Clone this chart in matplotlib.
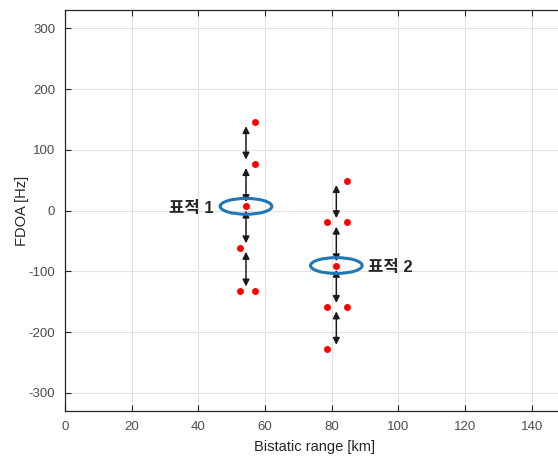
import matplotlib
matplotlib.use("Agg")
import matplotlib.pyplot as plt
from matplotlib.patches import Ellipse

plt.rcParams['font.family'] = ['Liberation Sans', 'Noto Sans CJK KR', 'DejaVu Sans']
plt.rcParams['axes.unicode_minus'] = False

# measured detections (bistatic range in km, FDOA in Hz)
t1_range = [57.1, 57.1, 54.3, 52.6, 52.6, 57.1]
t1_fdoa = [146, 77, 7, -61, -132, -132]
t2_range = [84.5, 78.5, 84.5, 81.4, 78.5, 84.5, 78.5]
t2_fdoa = [49, -19.5, -19.5, -90.5, -159, -159, -228]

# ambiguity spacing arrows: x position and the FDOA levels they join
t1_arrow_x = 54.3
t1_levels = [146, 77, 7, -61, -132]
t2_arrow_x = 81.4
t2_levels = [49, -19.5, -90.5, -159, -228]

# estimated target positions (centre of ellipse) and their labels
targets = [(54.3, 7), (81.4, -90.5)]
target_labels = ['표적 1', '표적 2']
ell_w, ell_h = 15.5, 26

dark = '#262626'

fig = plt.figure(figsize=(5.58, 4.57), dpi=100)
ax = fig.add_axes([0.1165, 0.1007, 0.896, 0.877])

ax.set_xlim(0, 150)
ax.set_ylim(-330, 330)
ax.set_xticks(range(0, 141, 20))
ax.set_yticks(range(-300, 301, 100))
ax.grid(True, color='#e3e3e3', linewidth=0.8)
ax.set_axisbelow(True)
ax.tick_params(direction='in', top=True, right=True, length=4,
               labelsize=9.5, colors=dark, labelcolor='#4d4d4d', pad=7)
for sp in ax.spines.values():
    sp.set_color(dark)
    sp.set_linewidth(0.9)

gap = 7
for x, levels in [(t1_arrow_x, t1_levels), (t2_arrow_x, t2_levels)]:
    for a, b in zip(levels[:-1], levels[1:]):
        ax.annotate('', xy=(x, b + gap), xytext=(x, a - gap),
                    arrowprops=dict(arrowstyle='<|-|>', color='#1a1a1a',
                                    lw=1.1, mutation_scale=10,
                                    shrinkA=0, shrinkB=0))

for (cx, cy) in targets:
    ax.add_patch(Ellipse((cx, cy), ell_w, ell_h, fill=False,
                         edgecolor='#1f77b4', linewidth=2.2, zorder=3))

ax.plot(t1_range, t1_fdoa, 'o', color='red', markersize=5,
        markeredgewidth=0, zorder=4)
ax.plot(t2_range, t2_fdoa, 'o', color='red', markersize=5,
        markeredgewidth=0, zorder=4)

ax.text(44.5, 4, target_labels[0], ha='right', va='center',
        fontsize=12, fontweight='bold', color=dark)
ax.text(91, -94, target_labels[1], ha='left', va='center',
        fontsize=12, fontweight='bold', color=dark)

ax.set_xlabel('Bistatic range [km]', fontsize=10.5, color=dark, labelpad=5)
ax.set_ylabel('FDOA [Hz]', fontsize=10.5, color=dark, labelpad=0)

fig.savefig('out.png', dpi=100)
